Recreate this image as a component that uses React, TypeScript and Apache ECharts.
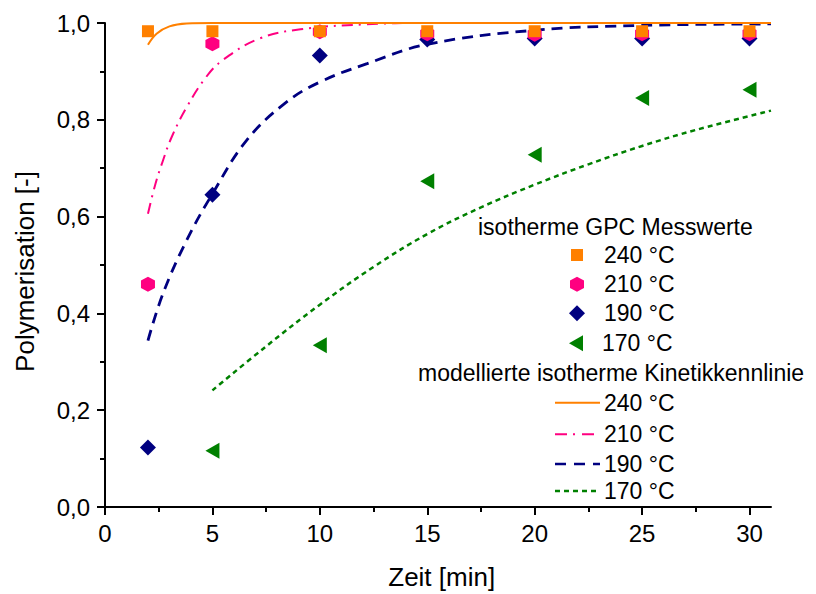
import React, { useEffect, useRef } from 'react';
import * as echarts from 'echarts';

const FONT = '"Liberation Sans", Arial, Helvetica, sans-serif';

const tempLabels = ['240 °C', '210 °C', '190 °C', '170 °C'];
const colors = ['#FF8000', '#FF0080', '#000080', '#008000'];
const xTicks = [0, 5, 10, 15, 20, 25, 30];
const xMinorTicks = [2.5, 7.5, 12.5, 17.5, 22.5, 27.5];

// measured values (Zeit [min], Polymerisation [-])
const meas240 = [[2, 0.983], [5, 0.983], [10, 0.983], [15, 0.983], [20, 0.983], [25, 0.983], [30, 0.983]];
const meas210 = [[2, 0.46], [5, 0.957], [10, 0.982], [15, 0.978], [20, 0.977], [25, 0.978], [30, 0.978]];
const meas190 = [[2, 0.123], [5, 0.645], [10, 0.933], [15, 0.966], [20, 0.968], [25, 0.968], [30, 0.968]];
const meas170 = [[5, 0.116], [10, 0.334], [15, 0.673], [20, 0.728], [25, 0.845], [30, 0.862]];

// modelled kinetics curves
const model240 = [[2, 0.955], [2.4, 0.978], [3, 0.993], [3.8, 0.999], [5, 1], [31, 1]];
const model210 = [[2, 0.606], [2.35, 0.668], [2.7, 0.716], [3.1, 0.764], [3.8, 0.826], [4.7, 0.888], [5.5, 0.924], [7.2, 0.968], [9.1, 0.987], [12, 0.997], [15, 1], [31, 1]];
const model190 = [[2, 0.344], [2.7, 0.441], [3.8, 0.551], [5, 0.647], [6.6, 0.758], [8.4, 0.835], [10, 0.878], [12.2, 0.916], [15, 0.956], [20, 0.985], [25, 0.995], [31, 0.998]];
const model170 = [[5, 0.241], [7.5, 0.332], [10, 0.418], [12.5, 0.496], [15, 0.564], [17.5, 0.619], [20, 0.666], [22.5, 0.708], [25, 0.746], [27.5, 0.779], [31, 0.819]];

const HEX = 'path://M5,0L10,2.9L10,8.7L5,11.6L0,8.7L0,2.9Z';
const TRI_LEFT = 'path://M0,5L10,0L10,10Z';

export default function App() {
  const ref = useRef<HTMLDivElement>(null);

  useEffect(() => {
    if (!ref.current) return;
    const chart = echarts.init(ref.current, null, { renderer: 'svg' });

    const lineSeries = (name: string, data: number[][], color: string, width: number, type: any) => ({
      name,
      type: 'line',
      data,
      smooth: 0.4,
      symbol: 'none',
      showSymbol: false,
      z: 2,
      lineStyle: { color, width, type },
    });

    const scatterSeries = (name: string, data: number[][], color: string, symbol: string, size: any) => ({
      name,
      type: 'scatter',
      data,
      symbol,
      symbolSize: size,
      z: 3,
      itemStyle: { color, opacity: 1 },
    });

    const txt = (text: string, x: number, y: number, size = 23) => ({
      type: 'text',
      x,
      y,
      style: {
        text,
        fontSize: size,
        fontFamily: FONT,
        fill: '#000',
        verticalAlign: 'middle',
        align: 'left',
      },
    });

    const mx = 577;
    const my = [255, 284.3, 313.3, 343.3];
    const ly = [402.7, 434.3, 464, 491];

    const hexPts = (cx: number, cy: number) => [
      [cx, cy - 7.5], [cx + 7, cy - 3.75], [cx + 7, cy + 3.75], [cx, cy + 7.5], [cx - 7, cy + 3.75], [cx - 7, cy - 3.75],
    ];

    const graphic: any[] = [
      {
        type: 'text', x: 441.7, y: 577,
        style: { text: 'Zeit [min]', fontSize: 26, fontFamily: FONT, fill: '#000', align: 'center', verticalAlign: 'middle' },
      },
      {
        type: 'text', x: 25, y: 271.5, rotation: Math.PI / 2,
        style: { text: 'Polymerisation [-]', fontSize: 26, fontFamily: FONT, fill: '#000', align: 'center', verticalAlign: 'middle' },
      },
      txt('isotherme GPC Messwerte', 478, 227),
      { type: 'rect', shape: { x: mx - 6, y: my[0] - 6, width: 12, height: 12 }, style: { fill: colors[0] } },
      { type: 'polygon', shape: { points: hexPts(mx, my[1]) }, style: { fill: colors[1] } },
      { type: 'polygon', shape: { points: [[mx, my[2] - 8], [mx + 8, my[2]], [mx, my[2] + 8], [mx - 8, my[2]]] }, style: { fill: colors[2] } },
      { type: 'polygon', shape: { points: [[mx - 8, my[3]], [mx + 6, my[3] - 8], [mx + 6, my[3] + 8]] }, style: { fill: colors[3] } },
      txt(tempLabels[0], 604, my[0]),
      txt(tempLabels[1], 604, my[1]),
      txt(tempLabels[2], 604, my[2]),
      txt(tempLabels[3], 602, my[3]),
      txt('modellierte isotherme Kinetikkennlinie', 418, 372.7),
      { type: 'line', shape: { x1: 555, y1: ly[0], x2: 600, y2: ly[0] }, style: { stroke: colors[0], lineWidth: 2 } },
      { type: 'line', shape: { x1: 555, y1: ly[1], x2: 600, y2: ly[1] }, style: { stroke: colors[1], lineWidth: 2, lineDash: [12, 6, 2, 7] } },
      { type: 'line', shape: { x1: 555, y1: ly[2], x2: 600, y2: ly[2] }, style: { stroke: colors[2], lineWidth: 2.5, lineDash: [11, 8] } },
      { type: 'line', shape: { x1: 555, y1: ly[3], x2: 600, y2: ly[3] }, style: { stroke: colors[3], lineWidth: 2.5, lineDash: [5, 4] } },
      txt(tempLabels[0], 604, ly[0]),
      txt(tempLabels[1], 604, ly[1]),
      txt(tempLabels[2], 604, ly[2]),
      txt(tempLabels[3], 604, ly[3]),
    ];

    chart.setOption({
      animation: false,
      backgroundColor: '#fff',
      grid: { left: 105, right: 45, top: 23, bottom: 87, containLabel: false, outerBoundsMode: 'none' },
      xAxis: [
        {
          type: 'value', min: 0, max: 31, interval: 5, position: 'bottom',
          axisLine: { show: true, onZero: false, lineStyle: { color: '#000', width: 2 } },
          axisTick: { show: true, inside: false, length: 8, customValues: xTicks, lineStyle: { color: '#000', width: 2 } },
          minorTick: { show: false },
          splitLine: { show: false },
          axisLabel: { customValues: xTicks, fontSize: 24, fontFamily: FONT, color: '#000', margin: 14 },
        },
        {
          type: 'value', min: 0, max: 31, interval: 5, position: 'bottom',
          axisLine: { show: false },
          axisTick: { show: true, inside: false, length: 5, customValues: xMinorTicks, lineStyle: { color: '#000', width: 2 } },
          splitLine: { show: false },
          axisLabel: { show: false },
        },
      ],
      yAxis: {
        type: 'value', min: 0, max: 1, interval: 0.2,
        axisLine: { show: true, onZero: false, lineStyle: { color: '#000', width: 2 } },
        axisTick: { show: true, inside: false, length: 8, lineStyle: { color: '#000', width: 2 } },
        minorTick: { show: true, splitNumber: 2, length: 5, lineStyle: { color: '#000', width: 2 } },
        splitLine: { show: false },
        axisLabel: {
          fontSize: 24, fontFamily: FONT, color: '#000', margin: 15,
          formatter: (v: number) => v.toFixed(1).replace('.', ','),
        },
      },
      series: [
        lineSeries('170 °C Modell', model170, colors[3], 2.5, [5, 4]),
        lineSeries('190 °C Modell', model190, colors[2], 2.8, [11, 7]),
        lineSeries('210 °C Modell', model210, colors[1], 2, [11, 6, 2, 6]),
        lineSeries('240 °C Modell', model240, colors[0], 2, 'solid'),
        scatterSeries('170 °C', meas170, colors[3], TRI_LEFT, [14, 16]),
        scatterSeries('190 °C', meas190, colors[2], 'diamond', [16, 16]),
        scatterSeries('210 °C', meas210, colors[1], HEX, [14, 15]),
        scatterSeries('240 °C', meas240, colors[0], 'rect', [12, 12]),
      ],
      graphic,
    });

    return () => chart.dispose();
  }, []);

  return <div ref={ref} style={{ width: 816, height: 594, position: 'absolute', left: 0, top: 0 }} />;
}
